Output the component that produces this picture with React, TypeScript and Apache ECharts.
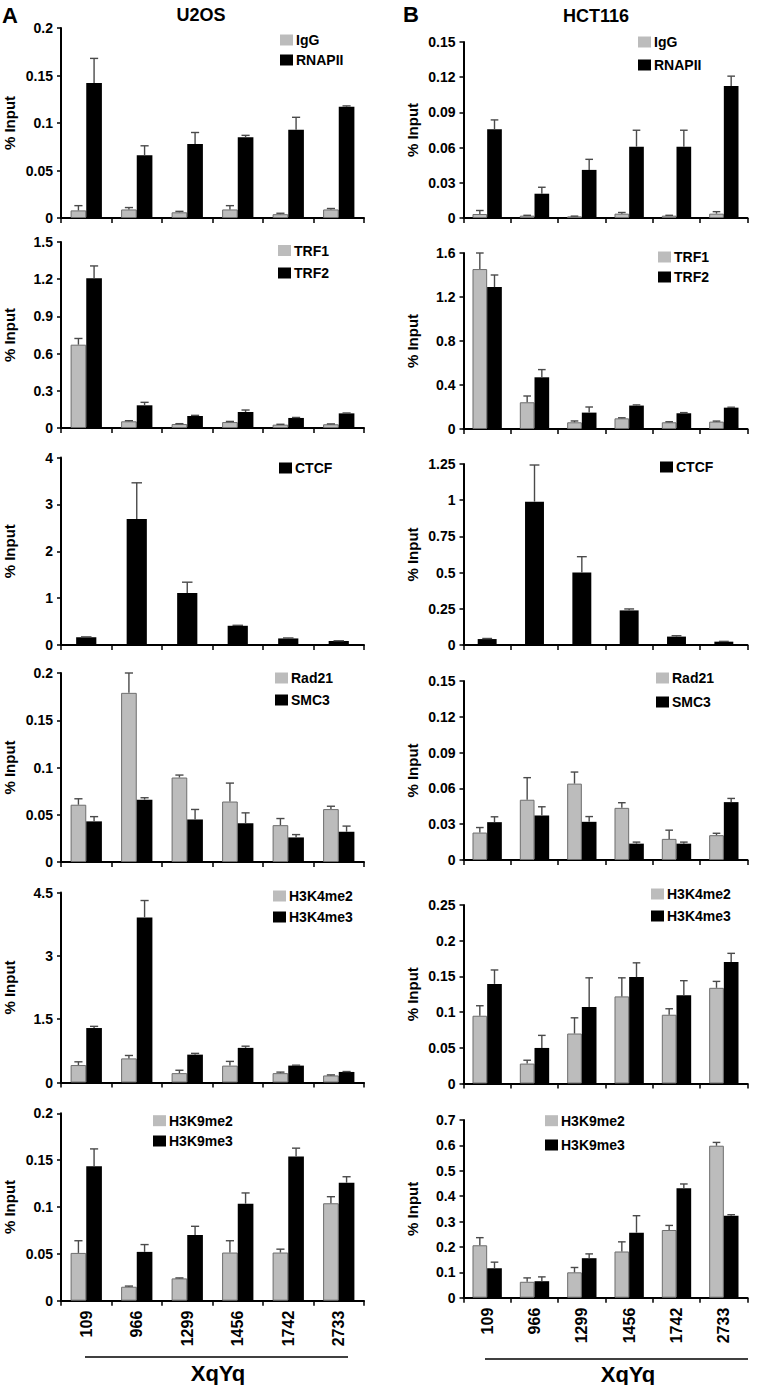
import React, { useEffect, useRef } from "react";
import * as echarts from "echarts";

const FONT = "'Liberation Sans', Arial, Helvetica, sans-serif";
const categories = ["109", "966", "1299", "1456", "1742", "2733"];

// ---- U2OS (A) ----
const u2os_IgG = [0.008, 0.009, 0.006, 0.009, 0.004, 0.009];
const u2os_IgG_sd = [0.005, 0.002, 0.001, 0.004, 0.001, 0.001];
const u2os_RNAPII = [0.142, 0.066, 0.078, 0.085, 0.093, 0.117];
const u2os_RNAPII_sd = [0.026, 0.01, 0.012, 0.002, 0.013, 0.001];

const u2os_TRF1 = [0.672, 0.054, 0.032, 0.048, 0.027, 0.03];
const u2os_TRF1_sd = [0.05, 0.005, 0.003, 0.005, 0.003, 0.003];
const u2os_TRF2 = [1.207, 0.183, 0.097, 0.129, 0.081, 0.118];
const u2os_TRF2_sd = [0.1, 0.024, 0.005, 0.016, 0.004, 0.003];

const u2os_CTCF = [0.163, 2.69, 1.11, 0.41, 0.14, 0.085];
const u2os_CTCF_sd = [0.01, 0.77, 0.23, 0.01, 0.01, 0.005];

const u2os_Rad21 = [0.0606, 0.179, 0.0894, 0.064, 0.039, 0.056];
const u2os_Rad21_sd = [0.0063, 0.021, 0.0026, 0.0195, 0.007, 0.003];
const u2os_SMC3 = [0.043, 0.066, 0.045, 0.041, 0.026, 0.032];
const u2os_SMC3_sd = [0.005, 0.002, 0.0106, 0.011, 0.003, 0.006];

const u2os_H3K4me2 = [0.413, 0.571, 0.222, 0.4, 0.222, 0.167];
const u2os_H3K4me2_sd = [0.077, 0.069, 0.068, 0.1, 0.024, 0.013];
const u2os_H3K4me3 = [1.29, 3.91, 0.66, 0.82, 0.4, 0.25];
const u2os_H3K4me3_sd = [0.04, 0.4, 0.03, 0.04, 0.01, 0.01];

const u2os_H3K9me2 = [0.051, 0.0149, 0.0238, 0.0514, 0.0514, 0.104];
const u2os_H3K9me2_sd = [0.013, 0.0007, 0.0005, 0.0126, 0.0036, 0.007];
const u2os_H3K9me3 = [0.1436, 0.0521, 0.07, 0.1035, 0.154, 0.1259];
const u2os_H3K9me3_sd = [0.0184, 0.0078, 0.0094, 0.0115, 0.0088, 0.0064];

// ---- HCT116 (B) ----
const hct_IgG = [0.0034, 0.002, 0.0014, 0.0037, 0.002, 0.0037];
const hct_IgG_sd = [0.003, 0.0003, 0.0002, 0.001, 0.0003, 0.0017];
const hct_RNAPII = [0.0756, 0.0207, 0.041, 0.0608, 0.0608, 0.1124];
const hct_RNAPII_sd = [0.008, 0.0055, 0.009, 0.014, 0.014, 0.0085];

const hct_TRF1 = [1.454, 0.243, 0.061, 0.097, 0.061, 0.067];
const hct_TRF1_sd = [0.146, 0.057, 0.012, 0.005, 0.005, 0.005];
const hct_TRF2 = [1.29, 0.47, 0.149, 0.213, 0.143, 0.194];
const hct_TRF2_sd = [0.11, 0.07, 0.051, 0.006, 0.006, 0.004];

const hct_CTCF = [0.041, 0.99, 0.5, 0.239, 0.058, 0.023];
const hct_CTCF_sd = [0.004, 0.253, 0.11, 0.01, 0.006, 0.002];

const hct_Rad21 = [0.023, 0.0505, 0.064, 0.0437, 0.0177, 0.0208];
const hct_Rad21_sd = [0.0042, 0.0185, 0.0097, 0.0043, 0.0073, 0.0016];
const hct_SMC3 = [0.0317, 0.0373, 0.032, 0.0137, 0.0137, 0.0485];
const hct_SMC3_sd = [0.0045, 0.0073, 0.0044, 0.0013, 0.0013, 0.0031];

const hct_H3K4me2 = [0.0949, 0.0279, 0.07, 0.122, 0.0963, 0.134];
const hct_H3K4me2_sd = [0.014, 0.0047, 0.022, 0.026, 0.0084, 0.009];
const hct_H3K4me3 = [0.1395, 0.0498, 0.107, 0.149, 0.1237, 0.17];
const hct_H3K4me3_sd = [0.0195, 0.0176, 0.041, 0.02, 0.0203, 0.0123];

const hct_H3K9me2 = [0.2065, 0.0627, 0.1, 0.182, 0.2667, 0.5987];
const hct_H3K9me2_sd = [0.03, 0.0153, 0.019, 0.038, 0.018, 0.013];
const hct_H3K9me3 = [0.116, 0.065, 0.1556, 0.256, 0.431, 0.323];
const hct_H3K9me3_sd = [0.024, 0.017, 0.017, 0.067, 0.017, 0.004];

type S = { name: string; values: number[]; sd: number[]; gray: boolean };
type Panel = {
  grid: { left: number; top: number; width: number; height: number };
  max: number;
  interval: number;
  series: S[];
  legend: { left: number; top: number; gap: number };
  bottom?: boolean;
};

const L = { left: 61, width: 303 };
const R = { left: 463.5, width: 284 };

const panels: Panel[] = [
  { grid: { ...L, top: 28, height: 190 }, max: 0.2, interval: 0.05,
    series: [
      { name: "IgG", values: u2os_IgG, sd: u2os_IgG_sd, gray: true },
      { name: "RNAPII", values: u2os_RNAPII, sd: u2os_RNAPII_sd, gray: false },
    ], legend: { left: 280, top: 33, gap: 6 } },
  { grid: { ...R, top: 42, height: 176 }, max: 0.15, interval: 0.03,
    series: [
      { name: "IgG", values: hct_IgG, sd: hct_IgG_sd, gray: true },
      { name: "RNAPII", values: hct_RNAPII, sd: hct_RNAPII_sd, gray: false },
    ], legend: { left: 638, top: 35, gap: 9 } },
  { grid: { ...L, top: 242, height: 186 }, max: 1.5, interval: 0.3,
    series: [
      { name: "TRF1", values: u2os_TRF1, sd: u2os_TRF1_sd, gray: true },
      { name: "TRF2", values: u2os_TRF2, sd: u2os_TRF2_sd, gray: false },
    ], legend: { left: 278, top: 243.5, gap: 8.5 } },
  { grid: { ...R, top: 253, height: 176 }, max: 1.6, interval: 0.4,
    series: [
      { name: "TRF1", values: hct_TRF1, sd: hct_TRF1_sd, gray: true },
      { name: "TRF2", values: hct_TRF2, sd: hct_TRF2_sd, gray: false },
    ], legend: { left: 658, top: 250, gap: 6 } },
  { grid: { ...L, top: 457.5, height: 187.5 }, max: 4, interval: 1,
    series: [{ name: "CTCF", values: u2os_CTCF, sd: u2os_CTCF_sd, gray: false }],
    legend: { left: 279, top: 461, gap: 6 } },
  { grid: { ...R, top: 464, height: 181 }, max: 1.25, interval: 0.25,
    series: [{ name: "CTCF", values: hct_CTCF, sd: hct_CTCF_sd, gray: false }],
    legend: { left: 660, top: 460, gap: 6 } },
  { grid: { ...L, top: 673, height: 189 }, max: 0.2, interval: 0.05,
    series: [
      { name: "Rad21", values: u2os_Rad21, sd: u2os_Rad21_sd, gray: true },
      { name: "SMC3", values: u2os_SMC3, sd: u2os_SMC3_sd, gray: false },
    ], legend: { left: 275, top: 671, gap: 8 } },
  { grid: { ...R, top: 681, height: 179 }, max: 0.15, interval: 0.03,
    series: [
      { name: "Rad21", values: hct_Rad21, sd: hct_Rad21_sd, gray: true },
      { name: "SMC3", values: hct_SMC3, sd: hct_SMC3_sd, gray: false },
    ], legend: { left: 656, top: 671, gap: 10 } },
  { grid: { ...L, top: 892.5, height: 190 }, max: 4.5, interval: 1.5,
    series: [
      { name: "H3K4me2", values: u2os_H3K4me2, sd: u2os_H3K4me2_sd, gray: true },
      { name: "H3K4me3", values: u2os_H3K4me3, sd: u2os_H3K4me3_sd, gray: false },
    ], legend: { left: 273, top: 889, gap: 7 } },
  { grid: { ...R, top: 905, height: 178.5 }, max: 0.25, interval: 0.05,
    series: [
      { name: "H3K4me2", values: hct_H3K4me2, sd: hct_H3K4me2_sd, gray: true },
      { name: "H3K4me3", values: hct_H3K4me3, sd: hct_H3K4me3_sd, gray: false },
    ], legend: { left: 651, top: 887, gap: 8 } },
  { grid: { ...L, top: 1113.3, height: 187.4 }, max: 0.2, interval: 0.05,
    series: [
      { name: "H3K9me2", values: u2os_H3K9me2, sd: u2os_H3K9me2_sd, gray: true },
      { name: "H3K9me3", values: u2os_H3K9me3, sd: u2os_H3K9me3_sd, gray: false },
    ], legend: { left: 153, top: 1113.7, gap: 6.3 }, bottom: true },
  { grid: { ...R, top: 1120, height: 177.7 }, max: 0.7, interval: 0.1,
    series: [
      { name: "H3K9me2", values: hct_H3K9me2, sd: hct_H3K9me2_sd, gray: true },
      { name: "H3K9me3", values: hct_H3K9me3, sd: hct_H3K9me3_sd, gray: false },
    ], legend: { left: 545, top: 1113.7, gap: 10.3 }, bottom: true },
];

const fmt = (v: number) => String(+v.toFixed(4));

function errRenderer(offset: number, barFrac: number) {
  return (_params: any, api: any) => {
    const x = api.value(0);
    const v = api.value(1);
    const e = api.value(2);
    const p0 = api.coord([x, v]);
    const p1 = api.coord([x, v + e]);
    const cw = api.size([1, 0])[0];
    const bw = cw * barFrac;
    const cx = p0[0] + offset * bw;
    const cap = bw * 0.26;
    const style = { stroke: "#4a4a4a", lineWidth: 1.4 };
    return {
      type: "group",
      children: [
        { type: "line", shape: { x1: cx, y1: p0[1], x2: cx, y2: p1[1] }, style },
        { type: "line", shape: { x1: cx - cap, y1: p1[1], x2: cx + cap, y2: p1[1] }, style },
      ],
    };
  };
}

export default function App() {
  const ref = useRef<HTMLDivElement>(null);
  useEffect(() => {
    document.body.style.margin = "0";
    if (!ref.current) return;
    const chart = echarts.init(ref.current, null, { renderer: "svg" });

    const grid: any[] = [];
    const xAxis: any[] = [];
    const yAxis: any[] = [];
    const series: any[] = [];
    const legend: any[] = [];

    panels.forEach((p, i) => {
      grid.push({ ...p.grid, containLabel: false });
      xAxis.push({
        type: "category",
        gridIndex: i,
        data: categories,
        axisLine: { lineStyle: { color: "#000", width: 2 } },
        axisTick: { show: true, length: 5, lineStyle: { color: "#000", width: 1.5 } },
        axisLabel: p.bottom
          ? { show: true, rotate: 90, margin: 10, color: "#000", fontFamily: FONT, fontWeight: "bold", fontSize: 16 }
          : { show: false },
        splitLine: { show: false },
      });
      yAxis.push({
        type: "value",
        gridIndex: i,
        min: 0,
        max: p.max,
        interval: p.interval,
        name: "% Input",
        nameLocation: "middle",
        nameGap: 44,
        nameTextStyle: { color: "#000", fontFamily: FONT, fontWeight: "bold", fontSize: 15 },
        axisLine: { show: true, lineStyle: { color: "#000", width: 2 } },
        axisTick: { show: true, length: 4, lineStyle: { color: "#000", width: 1.5 } },
        axisLabel: { margin: 8, color: "#000", fontFamily: FONT, fontWeight: "bold", fontSize: 14, formatter: fmt },
        splitLine: { show: false },
      });
      const single = p.series.length === 1;
      const barFrac = single ? 0.4 : 0.31;
      p.series.forEach((s, j) => {
        series.push({
          type: "bar",
          name: s.name,
          xAxisIndex: i,
          yAxisIndex: i,
          data: s.values,
          barWidth: single ? "40%" : "31%",
          barGap: "0%",
          itemStyle: s.gray
            ? { color: "#bcbcbc", borderColor: "#6e6e6e", borderWidth: 1 }
            : { color: "#000", borderColor: "#000", borderWidth: 0 },
        });
        const offset = single ? 0 : j === 0 ? -0.5 : 0.5;
        series.push({
          type: "custom",
          xAxisIndex: i,
          yAxisIndex: i,
          data: s.values.map((v, k) => [k, v, s.sd[k]]),
          encode: { x: 0, y: 1 },
          renderItem: errRenderer(offset, barFrac),
          clip: false,
          z: 5,
        });
      });
      legend.push({
        left: p.legend.left,
        top: p.legend.top,
        orient: "vertical",
        padding: 0,
        itemGap: p.legend.gap,
        itemWidth: 13,
        itemHeight: 11,
        icon: "rect",
        selectedMode: false,
        itemStyle: { borderWidth: 0 },
        data: p.series.map((s) => s.name),
        textStyle: { color: "#000", fontFamily: FONT, fontWeight: "bold", fontSize: 14, lineHeight: 14, padding: [0, 0, 0, -2] },
      });
    });

    const txt = (text: string, x: number, y: number, size: number, align = "center") => ({
      type: "text",
      x,
      y,
      style: { text, fill: "#000", font: `bold ${size}px ${FONT}`, textAlign: align, textVerticalAlign: "middle" },
    });

    const graphic: any[] = [
      txt("A", 2, 15, 22, "left"),
      txt("U2OS", 201, 15, 18),
      txt("B", 403, 14, 22, "left"),
      txt("HCT116", 596, 16, 18),
      { type: "line", shape: { x1: 85, y1: 1357, x2: 348, y2: 1357 }, style: { stroke: "#000", lineWidth: 1.5 } },
      { type: "line", shape: { x1: 485, y1: 1359, x2: 748, y2: 1359 }, style: { stroke: "#000", lineWidth: 1.5 } },
      txt("XqYq", 218, 1373, 22),
      txt("XqYq", 628, 1374, 22),
    ];

    chart.setOption({
      animation: false,
      backgroundColor: "#fff",
      grid,
      xAxis,
      yAxis,
      series,
      legend,
      graphic,
    });
    return () => chart.dispose();
  }, []);
  return <div ref={ref} style={{ width: 757, height: 1385 }} />;
}
